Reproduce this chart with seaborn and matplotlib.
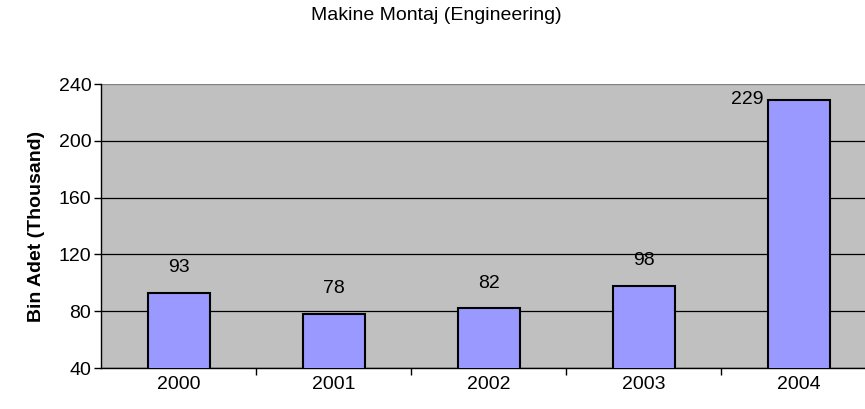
import matplotlib
matplotlib.use("Agg")
import matplotlib.pyplot as plt
import seaborn as sns
import pandas as pd

# --- DATA ---
years = ["2000", "2001", "2002", "2003", "2004"]
values = [93, 78, 82, 98, 229]
y_ticks = [40, 80, 120, 160, 200, 240]

title = "Makine Montaj (Engineering)"
y_label = "Bin Adet (Thousand)"


def main():
    sns.set_style("white")
    plt.rcParams['font.family'] = ['Liberation Sans', 'DejaVu Sans']
    plt.rcParams['text.color'] = 'black'
    plt.rcParams['axes.labelcolor'] = 'black'
    plt.rcParams['xtick.color'] = 'black'
    plt.rcParams['ytick.color'] = 'black'

    df = pd.DataFrame({"year": years, "value": values})

    fig = plt.figure(figsize=(8.65, 4.09), dpi=100)
    ax = fig.add_axes([0.1168, 0.100, 0.8960, 0.6946])
    ax.set_facecolor("#C0C0C0")

    sns.barplot(data=df, x="year", y="value", color="#9999FF", saturation=1,
                width=0.4, edgecolor="black", linewidth=1.5, ax=ax, zorder=3)

    ax.set_ylim(y_ticks[0], y_ticks[-1])
    ax.set_yticks(y_ticks)
    ax.set_xlim(-0.5, len(years) - 0.5)
    ax.yaxis.grid(True, color="black", linewidth=0.9, zorder=1)
    ax.set_axisbelow(True)
    # top edge of the plot area is a softer grey line
    ax.get_ygridlines()[-1].set_color("#808080")

    # x ticks sit between categories, labels at centers
    ax.set_xticks([i + 0.5 for i in range(len(years) - 1)], minor=False)
    ax.set_xticklabels([])
    ax.set_xticks(range(len(years)), minor=True)
    ax.set_xticklabels(years, minor=True)
    ax.tick_params(axis="x", which="major", direction="out", length=5, width=1,
                   color="black", bottom=True)
    ax.tick_params(axis="x", which="minor", length=0, labelsize=14, pad=6,
                   labelcolor="black")
    ax.tick_params(axis="y", direction="out", length=5, width=1, color="black",
                   left=True, labelsize=14, pad=2, labelcolor="black")

    for side in ["top", "right"]:
        ax.spines[side].set_visible(False)
    for side in ["left", "bottom"]:
        ax.spines[side].set_color("black")
        ax.spines[side].set_linewidth(1)

    # value labels
    for i, v in enumerate(values):
        if v + 30 > y_ticks[-1]:
            ax.annotate(str(v), xy=(i - 0.2, v), xytext=(-3, 0),
                        textcoords="offset points", ha="right", va="center",
                        fontsize=14, color="black")
        else:
            ax.annotate(str(v), xy=(i, v), xytext=(0, 12),
                        textcoords="offset points", ha="center", va="bottom",
                        fontsize=14, color="black")

    ax.set_xlabel("")
    ax.set_ylabel(y_label, fontsize=14, fontweight="bold", labelpad=10,
                  color="black")
    fig.text(0.504, 0.963, title, ha="center", va="center", fontsize=14,
             color="black")

    fig.savefig("out.png", dpi=100)


if __name__ == "__main__":
    main()
